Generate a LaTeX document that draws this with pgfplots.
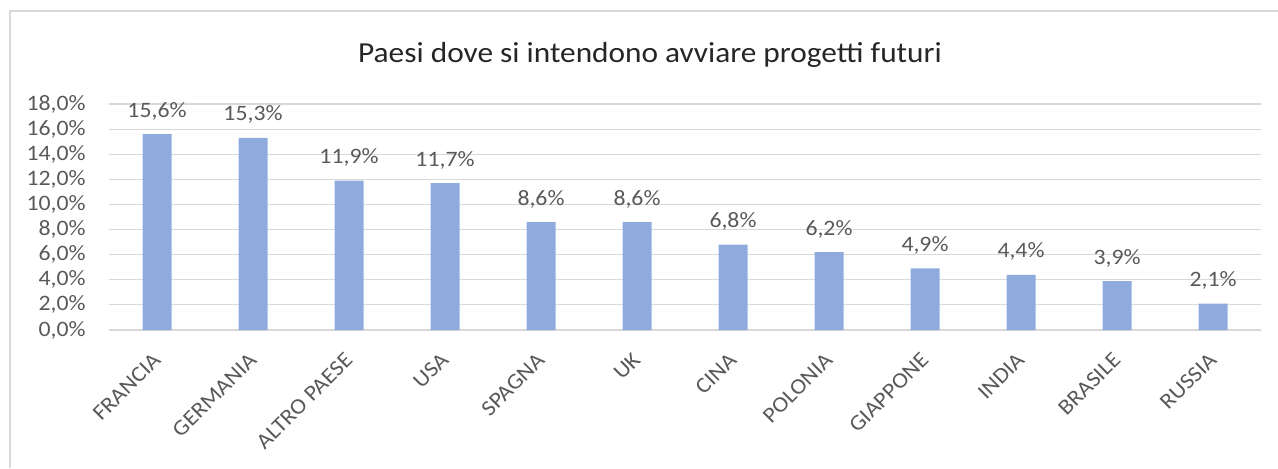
\documentclass[border=0pt]{standalone}
\usepackage{pgfplots}
\pgfplotsset{compat=1.18}
\usepackage{fontspec}
\setmainfont{Carlito}[FakeStretch=1.08]
\definecolor{barblue}{HTML}{8FAADC}
\definecolor{gridgray}{HTML}{D9D9D9}
\definecolor{txtgray}{HTML}{595959}
\definecolor{titlegray}{HTML}{262626}
\begin{document}
\begin{tikzpicture}
\useasboundingbox (0,0) rectangle (639pt,234pt);
\draw[gridgray, line width=0.8pt] (5pt,0) -- (5pt,228.5pt) -- (639pt,228.5pt);
\node[anchor=base, font=\fontsize{14.5}{17}\selectfont, text=titlegray] at (325pt,203pt)
  {Paesi dove si intendono avviare progetti futuri};
\begin{axis}[at={(54.5pt,69pt)}, anchor=south west,
  scale only axis, width=576pt, height=113pt,
  ybar, bar width=14.5pt,
  xmin=-0.5, xmax=11.5, ymin=0, ymax=18,
  xtick={0,...,11},
  xticklabels={FRANCIA,GERMANIA,ALTRO PAESE,USA,SPAGNA,UK,CINA,POLONIA,GIAPPONE,INDIA,BRASILE,RUSSIA},
  ytick={0,2,...,18},
  major tick length=0pt,
  axis x line*=bottom, axis y line*=left,
  x axis line style={gridgray, line width=0.8pt},
  y axis line style={draw=none},
  ymajorgrids, grid style={gridgray, line width=0.6pt},
  /pgf/number format/assume math mode=true,
  yticklabel={\pgfmathprintnumber[fixed,fixed zerofill,precision=1,use comma]{\tick}\%},
  yticklabel style={font=\fontsize{11}{13}\selectfont, text=txtgray, anchor=east, inner sep=0pt, xshift=-11.5pt},
  xticklabel style={font=\fontsize{11}{13}\selectfont, text=txtgray, rotate=45, anchor=north east, inner sep=0pt, xshift=-9.3pt, yshift=-5.5pt},
  nodes near coords={\pgfmathprintnumber[fixed,fixed zerofill,precision=1,use comma]{\pgfplotspointmeta}\%},
  nodes near coords style={font=\fontsize{11}{13}\selectfont, text=txtgray, anchor=base, yshift=8.5pt, inner sep=0pt},
  clip=false]
\addplot[fill=barblue, draw=none] coordinates
  {(0,15.6)(1,15.3)(2,11.9)(3,11.7)(4,8.6)(5,8.6)(6,6.8)(7,6.2)(8,4.9)(9,4.4)(10,3.9)(11,2.1)};
\end{axis}
\end{tikzpicture}
\end{document}
